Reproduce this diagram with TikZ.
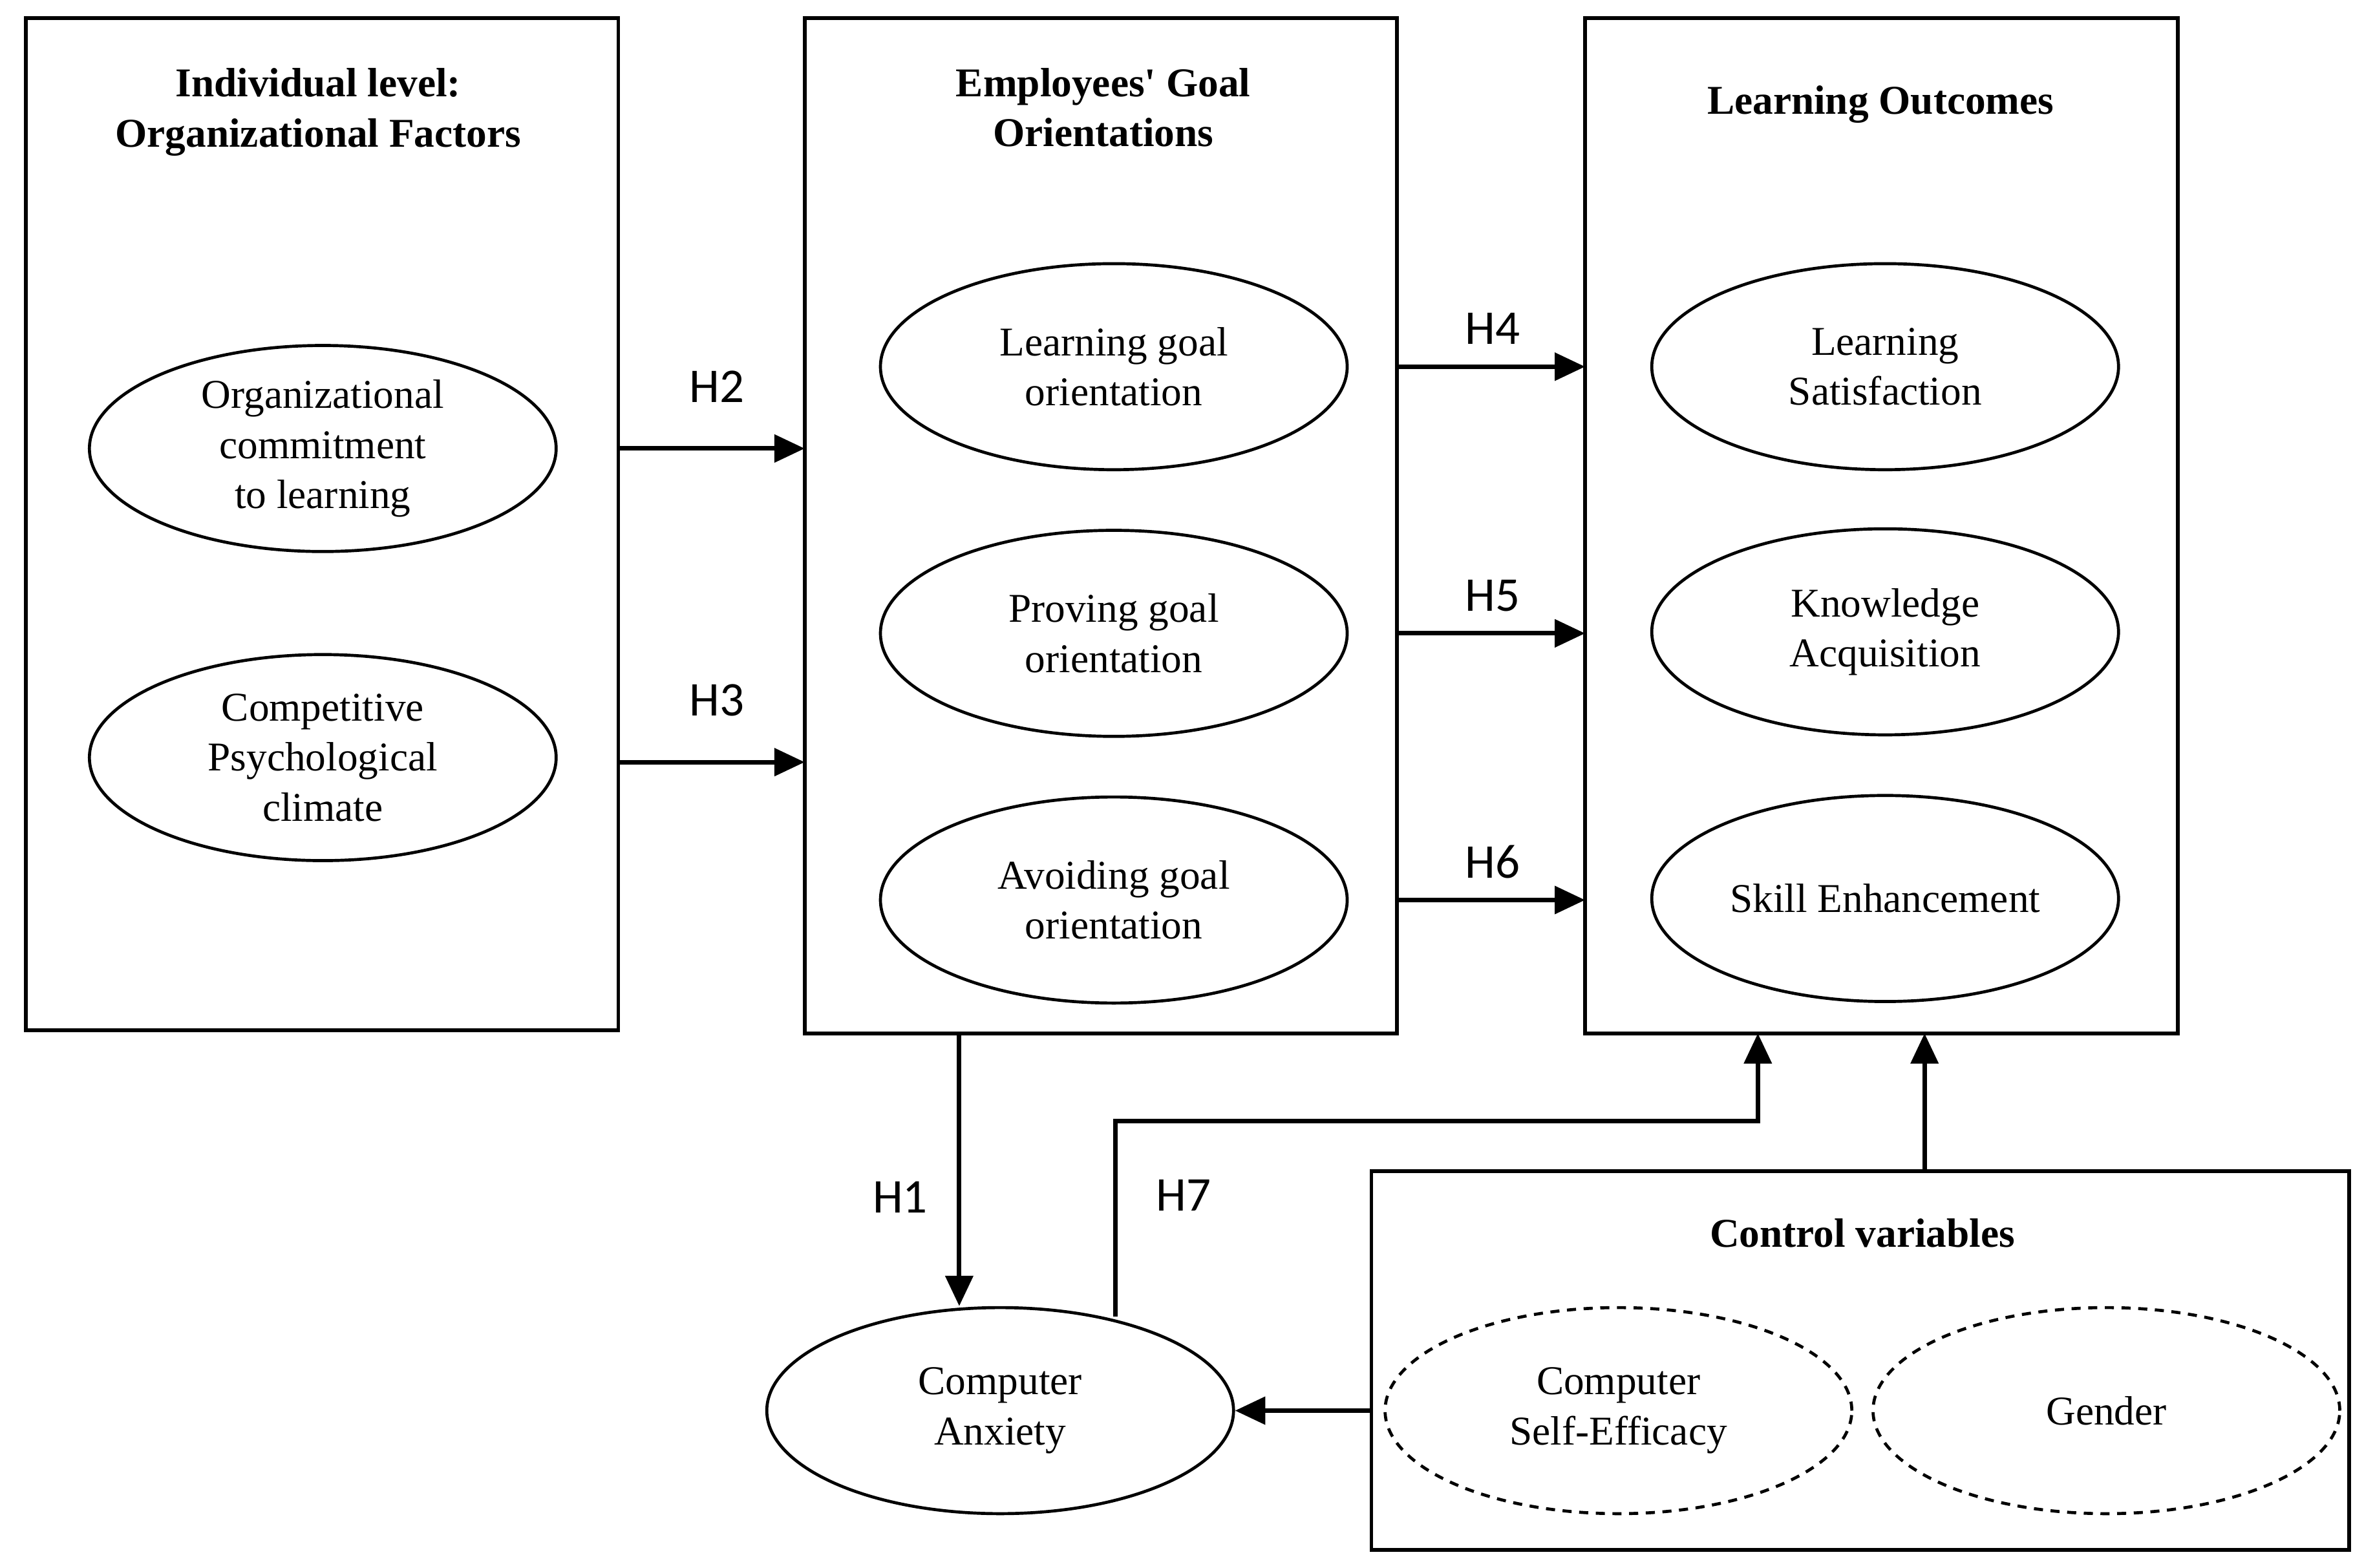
\documentclass[tikz,border=0pt]{standalone}
\usepackage{fontspec}
\setmainfont{Liberation Serif}[Ligatures=NoCommon]
\newfontfamily\hfont{Carlito}
\usetikzlibrary{arrows.meta,shapes.geometric}
\begin{document}
\begin{tikzpicture}[x=1pt,y=-1pt,line width=2.5pt,
 box/.style={draw,line width=2.5pt},
 ell/.style={draw,ellipse,minimum width=308pt,minimum height=136pt,line width=2pt,align=center,font=\fontsize{27}{33}\selectfont,inner sep=0pt},
 dell/.style={ell,dashed,dash pattern=on 6pt off 5pt},
 ttl/.style={align=center,font=\fontsize{27}{33}\selectfont\bfseries},
 hl/.style={font=\hfont\fontsize{32}{34}\selectfont},
 arr/.style={-{Triangle[length=20pt,width=18pt]},line width=3pt}]
\useasboundingbox (0,0) rectangle (1560,1034.5);
\draw[box] (17,12) rectangle (408,680);
\draw[box] (531,12) rectangle (922,682);
\draw[box] (1046,12) rectangle (1437,682);
\draw[box] (905,773) rectangle (1550,1023);
\node[ttl] (t1) at (210,74) {Individual level:\\Organizational Factors};
\node[ttl] (t2) at (728,71) {Employees\textquotesingle{} Goal\\Orientations};
\node[ttl] (t3) at (1241,69) {Learning Outcomes};
\node[ttl] (t4) at (1229,814) {Control variables};
\node[ell] (a1) at (213,296) {Organizational\\commitment\\to learning};
\node[ell] (a2) at (213,500) {Competitive\\Psychological\\climate};
\node[ell] (b1) at (735,242) {Learning goal\\orientation};
\node[ell] (b2) at (735,418) {Proving goal\\orientation};
\node[ell] (b3) at (735,594) {Avoiding goal\\orientation};
\node[ell] (c1) at (1244,242) {Learning\\Satisfaction};
\node[ell] (c2) at (1244,417) {Knowledge\\Acquisition};
\node[ell] (c3) at (1244,593) {Skill Enhancement};
\node[ell] (ca) at (660,931) {Computer\\Anxiety};
\node[dell] (d1) at (1068,931) {Computer\\Self-Efficacy};
\node[dell] (d2) at (1390,931) {Gender};
\coordinate (p1) at (408,296); \coordinate (q1) at (531,296);
\coordinate (p2) at (408,503); \coordinate (q2) at (531,503);
\coordinate (p4) at (922,242); \coordinate (q4) at (1046,242);
\coordinate (p5) at (922,418); \coordinate (q5) at (1046,418);
\coordinate (p6) at (922,594); \coordinate (q6) at (1046,594);
\coordinate (h1s) at (633,682); \coordinate (h1e) at (633,862);
\coordinate (h7s) at (736,869); \coordinate (h7e) at (1160,682);
\coordinate (cvs) at (1270,773); \coordinate (cve) at (1270,682);
\coordinate (cas) at (905,931);
\draw[arr] (p1) -- (q1); \draw[arr] (p2) -- (q2);
\draw[arr] (p4) -- (q4); \draw[arr] (p5) -- (q5); \draw[arr] (p6) -- (q6);
\draw[arr] (h1s) -- (h1e);
\draw[arr] (h7s) -- (736,740) -- (1160,740) -- (h7e);
\draw[arr] (cvs) -- (cve);
\draw[arr] (cas) -- (ca.east);
\node[hl] at (473,255) {H2};
\node[hl] at (473,462) {H3};
\node[hl] at (985,217) {H4};
\node[hl] at (985,393) {H5};
\node[hl] at (985,569) {H6};
\node[hl] at (594,790) {H1};
\node[hl] at (781,789) {H7};
\end{tikzpicture}
\end{document}
